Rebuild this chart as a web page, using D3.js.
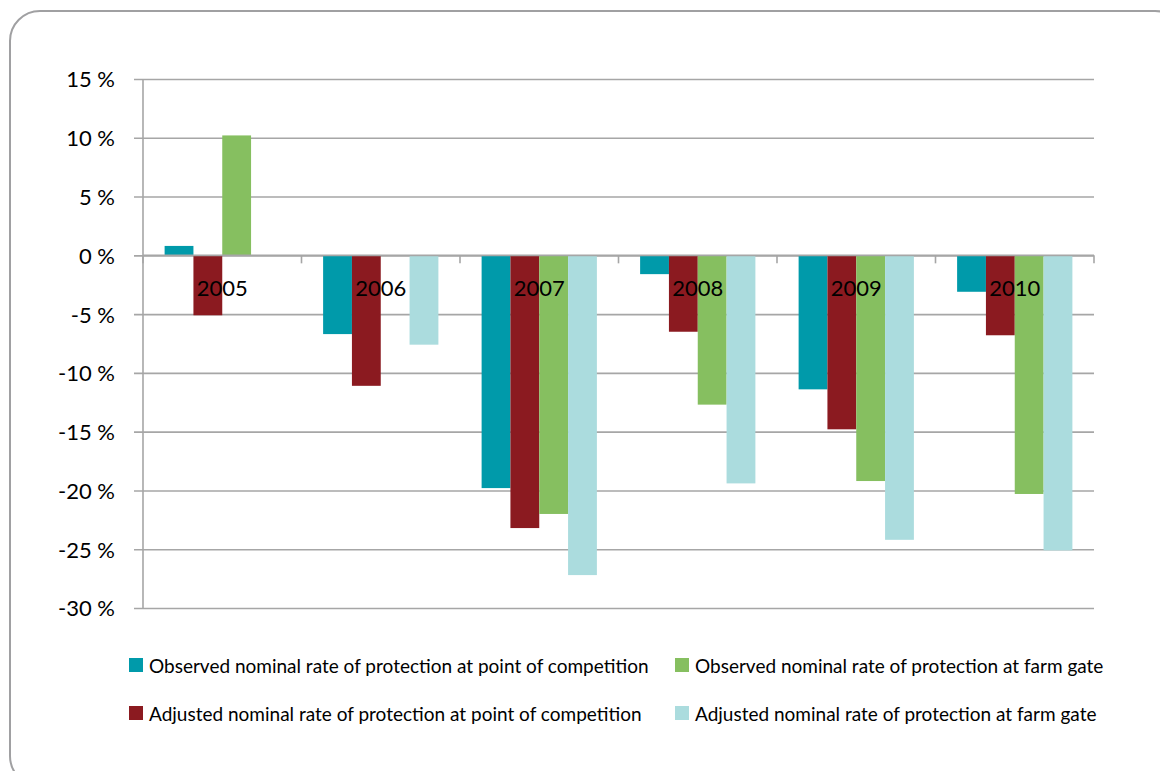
<!DOCTYPE html>
<html>
<head>
<meta charset="utf-8">
<script src="https://cdn.jsdelivr.net/npm/d3@7"></script>
<style>
  html, body { margin: 0; padding: 0; background: #fff; }
  svg { display: block; font-family: Lato, "Open Sans", sans-serif; }
</style>
</head>
<body>
<svg id="chart" width="1160" height="771"></svg>
<script>
// Years on the category axis
const years = ["2005", "2006", "2007", "2008", "2009", "2010"];

// Series names (legend order: column-major in a 2x2 grid)
const seriesNames = [
  "Observed nominal rate of protection at point of competition",
  "Adjusted nominal rate of protection at point of competition",
  "Observed nominal rate of protection at farm gate",
  "Adjusted nominal rate of protection at farm gate"
];

// Values in percent; null means no bar for that year
const observedPoint = [0.8, -6.7, -19.8, -1.6, -11.4, -3.1];
const adjustedPoint = [-5.1, -11.1, -23.2, -6.5, -14.8, -6.8];
const observedFarm  = [10.2, null, -22.0, -12.7, -19.2, -20.3];
const adjustedFarm  = [null, -7.6, -27.2, -19.4, -24.2, -25.1];

const seriesColors = ["#009aaa", "#8b1a20", "#86bf60", "#abdcde"];

// Y axis tick values
const yTicks = [15, 10, 5, 0, -5, -10, -15, -20, -25, -30];

const seriesValues = [observedPoint, adjustedPoint, observedFarm, adjustedFarm];

const svg = d3.select("#chart");

// Rounded outer frame
svg.append("rect")
  .attr("x", 10).attr("y", 11)
  .attr("width", 1175).attr("height", 775)
  .attr("rx", 30).attr("ry", 30)
  .attr("fill", "none")
  .attr("stroke", "#a0a0a2")
  .attr("stroke-width", 2);

const plot = { left: 143, right: 1094, top: 79, bottom: 608 };

const x = d3.scaleBand()
  .domain(years)
  .range([plot.left, plot.right])
  .paddingInner(0)
  .paddingOuter(0);

const y = d3.scaleLinear()
  .domain([-30, 15])
  .range([plot.bottom, plot.top]);

// Four touching bars per year, with a gap of 1.5 bar widths between groups
const x1 = d3.scaleBand()
  .domain(d3.range(seriesNames.length))
  .range([0, x.bandwidth()])
  .paddingInner(0)
  .paddingOuter(0.75);

const gridColor = "#a6a6a6";

// Horizontal gridlines with left tick stubs
const yAxis = d3.axisLeft(y)
  .tickValues(yTicks)
  .tickSize(-(plot.right - plot.left))
  .tickFormat(d => `${d} %`);

const gy = svg.append("g")
  .attr("transform", `translate(${plot.left},0)`)
  .call(yAxis);
gy.select(".domain").remove();
gy.selectAll(".tick line")
  .attr("x1", -9)
  .attr("stroke", gridColor)
  .attr("stroke-width", 1.6);
gy.selectAll(".tick text")
  .attr("x", -28)
  .attr("dy", "0.36em")
  .attr("fill", "#000")
  .style("font-size", "22px")
  .style("font-family", "Lato, sans-serif");

// Vertical value axis line
svg.append("line")
  .attr("x1", plot.left).attr("x2", plot.left)
  .attr("y1", plot.top).attr("y2", plot.bottom)
  .attr("stroke", gridColor)
  .attr("stroke-width", 1.6);

// Bars
const groups = svg.append("g")
  .selectAll("g")
  .data(years)
  .join("g")
  .attr("transform", d => `translate(${x(d)},0)`);

groups.selectAll("rect")
  .data((yr, i) => seriesValues.map((vals, s) => ({ s, v: vals[i] })).filter(d => d.v !== null))
  .join("rect")
  .attr("x", d => x1(d.s))
  .attr("width", x1.bandwidth())
  .attr("y", d => y(Math.max(0, d.v)))
  .attr("height", d => Math.abs(y(d.v) - y(0)))
  .attr("fill", d => seriesColors[d.s]);

// Category axis along zero, with tick marks between years
const boundaries = years.map(d => x(d)).concat([plot.right]);
svg.append("line")
  .attr("x1", plot.left).attr("x2", plot.right)
  .attr("y1", y(0)).attr("y2", y(0))
  .attr("stroke", gridColor)
  .attr("stroke-width", 1.6);
svg.append("g")
  .selectAll("line")
  .data(boundaries)
  .join("line")
  .attr("x1", d => d).attr("x2", d => d)
  .attr("y1", y(0)).attr("y2", y(0) + 8)
  .attr("stroke", gridColor)
  .attr("stroke-width", 1.6);

svg.append("g")
  .selectAll("text")
  .data(years)
  .join("text")
  .attr("x", d => x(d) + x.bandwidth() / 2)
  .attr("y", y(0) + 41)
  .attr("text-anchor", "middle")
  .attr("fill", "#000")
  .style("font-size", "22px")
  .text(d => d);

// Legend, two columns by two rows
const legendPos = [
  { x: 129, y: 658 },
  { x: 129, y: 706 },
  { x: 675, y: 658 },
  { x: 675, y: 706 }
];
const legend = svg.append("g")
  .selectAll("g")
  .data(seriesNames)
  .join("g")
  .attr("transform", (d, i) => `translate(${legendPos[i].x},${legendPos[i].y})`);
legend.append("rect")
  .attr("width", 14).attr("height", 14)
  .attr("fill", (d, i) => seriesColors[i]);
legend.append("text")
  .attr("x", 20)
  .attr("y", 14.5)
  .attr("fill", "#000")
  .style("font-size", "19px")
  .text(d => d);
</script>
</body>
</html>
